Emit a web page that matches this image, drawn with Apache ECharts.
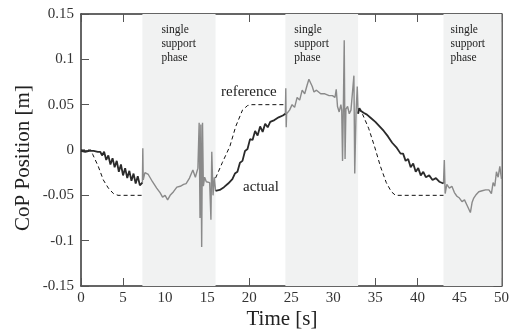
<!DOCTYPE html>
<html><head><meta charset="utf-8">
<script src="https://cdn.jsdelivr.net/npm/echarts@6/dist/echarts.min.js"></script>
<style>html,body{margin:0;padding:0;background:#fff}#c{width:512px;height:336px}</style>
</head><body><div id="c"></div>
<script>
// x tick labels / y tick labels
const xTicks = [0, 5, 10, 15, 20, 25, 30, 35, 40, 45, 50];
const yTicks = [-0.15, -0.1, -0.05, 0, 0.05, 0.1, 0.15];

// single support phase intervals [s]
const shadeStart = [7.3, 24.3, 43.1];
const shadeEnd = [16.0, 32.95, 50];

// reference CoP (dashed), three visible segments
const ref1T = [0, 1.2, 1.4, 2.05, 2.65, 3.25, 3.85, 4.4, 7.3];
const ref1V = [0, 0, -0.005, -0.018, -0.033, -0.042, -0.048, -0.05, -0.05];
const ref2T = [16.0, 16.8, 17.7, 18.4, 19.2, 19.8, 20.3, 24.3];
const ref2V = [-0.031, -0.014, 0.004, 0.026, 0.044, 0.049, 0.05, 0.05];
const ref3T = [32.95, 33.5, 34.2, 34.9, 35.6, 36.3, 36.9, 37.4, 43.1];
const ref3V = [0.046, 0.039, 0.024, 0.004, -0.018, -0.036, -0.046, -0.05, -0.05];

// actual CoP, double support phases (black)
const act1T = [0, 0.5, 1.0, 1.5, 2.0, 2.3, 2.5, 2.75, 3.0, 3.25, 3.5, 3.75, 4.0, 4.25, 4.5, 4.75, 5.0, 5.25, 5.5, 5.75, 6.0, 6.25, 6.5, 6.75, 7.0, 7.3];
const act1V = [-0.001, -0.002, -0.001, -0.001, -0.002, -0.002, -0.006, -0.002, -0.011, -0.006, -0.016, -0.009, -0.019, -0.012, -0.024, -0.016, -0.028, -0.02, -0.031, -0.023, -0.034, -0.026, -0.037, -0.029, -0.039, -0.036];
const act2T = [16.0, 16.1, 16.5, 17.0, 17.5, 18.0, 18.3, 18.6, 18.9, 19.2, 19.5, 19.8, 20.1, 20.4, 20.7, 21.0, 21.3, 21.6, 21.9, 22.2, 22.5, 23.0, 23.5, 24.0, 24.3];
const act2V = [-0.045, -0.047, -0.044, -0.041, -0.037, -0.032, -0.026, -0.024, -0.014, -0.012, -0.001, 0.001, 0.012, 0.011, 0.021, 0.016, 0.026, 0.020, 0.029, 0.025, 0.031, 0.033, 0.036, 0.038, 0.040];
const act3T = [32.95, 33.1, 33.3, 33.6, 34.0, 34.5, 35.0, 35.5, 36.0, 36.5, 37.0, 37.5, 38.0, 38.3, 38.6, 38.9, 39.2, 39.5, 39.8, 40.1, 40.4, 40.7, 41.0, 41.4, 41.8, 42.2, 42.6, 43.1];
const act3V = [0.040, 0.046, 0.043, 0.041, 0.039, 0.035, 0.031, 0.026, 0.021, 0.015, 0.008, 0.003, -0.004, -0.004, -0.012, -0.010, -0.019, -0.015, -0.024, -0.020, -0.028, -0.024, -0.030, -0.028, -0.033, -0.031, -0.035, -0.037];

// actual CoP, single support phases (gray)
const ss1T = [7.3, 7.35, 7.4, 7.6, 8.0, 8.5, 9.0, 9.4, 9.7, 10.0, 10.3, 10.6, 11.0, 11.4, 11.8, 12.2, 12.5, 12.9, 13.3, 13.6, 13.9, 14.05, 14.15, 14.25, 14.35, 14.45, 14.55, 14.7, 14.9, 15.1, 15.3, 15.45, 15.55, 15.7, 15.85, 16.0];
const ss1V = [-0.036, 0.002, -0.033, -0.025, -0.027, -0.035, -0.042, -0.047, -0.052, -0.05, -0.055, -0.05, -0.046, -0.041, -0.040, -0.038, -0.037, -0.031, -0.022, -0.03, -0.02, 0.03, -0.075, 0.028, -0.107, 0.03, -0.04, -0.03, -0.035, -0.033, -0.036, -0.077, -0.002, -0.05, -0.03, -0.045];
const ss2T = [24.3, 24.35, 24.4, 24.45, 24.8, 25.1, 25.4, 25.7, 26.0, 26.3, 26.6, 26.9, 27.1, 27.3, 27.5, 27.7, 28.0, 28.5, 29.0, 29.5, 29.9, 30.2, 30.35, 30.5, 30.7, 30.9, 31.0, 31.1, 31.2, 31.3, 31.4, 31.5, 31.7, 31.9, 32.1, 32.3, 32.45, 32.55, 32.7, 32.85, 32.95];
const ss2V = [0.040, 0.068, 0.025, 0.040, 0.044, 0.050, 0.047, 0.058, 0.055, 0.066, 0.062, 0.072, 0.078, 0.080, 0.070, 0.064, 0.066, 0.062, 0.062, 0.060, 0.060, 0.058, 0.067, 0.048, 0.042, 0.050, 0.044, -0.012, 0.050, 0.121, -0.010, 0.045, 0.048, 0.040, 0.044, 0.042, 0.082, -0.026, 0.040, 0.070, 0.040];
const ss3T = [43.1, 43.2, 43.3, 43.5, 43.8, 44.1, 44.4, 44.7, 45.0, 45.3, 45.6, 45.9, 46.1, 46.3, 46.5, 46.7, 47.0, 47.3, 47.7, 48.1, 48.5, 48.8, 49.0, 49.2, 49.4, 49.6, 49.8, 50.0];
const ss3V = [-0.037, -0.011, -0.048, -0.038, -0.042, -0.040, -0.047, -0.051, -0.053, -0.057, -0.055, -0.061, -0.060, -0.069, -0.058, -0.053, -0.049, -0.046, -0.045, -0.044, -0.044, -0.048, -0.036, -0.040, -0.024, -0.030, -0.018, -0.032];

const shadeLabel = 'single\nsupport\nphase';

function zip(ts, vs) { return ts.map((t, i) => [t, vs[i]]); }

const FONT = 'Liberation Serif';
const chart = echarts.init(document.getElementById('c'), null, {renderer: 'canvas'});

const labelOffsets = [[19, 9], [9, 9], [7, 9]];
const series = [];
series.push({
  type: 'line', data: [], silent: true,
  markArea: {
    silent: true,
    itemStyle: {color: '#f1f2f2'},
    label: {show: true, position: 'insideTopLeft', fontFamily: FONT, fontSize: 11.5, lineHeight: 14, color: '#222'},
    data: shadeStart.map((s, i) => [
      {xAxis: s, name: shadeLabel, label: {position: labelOffsets[i]}},
      {xAxis: shadeEnd[i]}
    ])
  }
});
[[ref1T, ref1V], [ref2T, ref2V], [ref3T, ref3V]].forEach(([t, v]) => series.push({
  type: 'line', data: zip(t, v), symbol: 'none', z: 3,
  lineStyle: {color: '#111', width: 1, type: [4, 3]}
}));
[[ss1T, ss1V], [ss2T, ss2V], [ss3T, ss3V]].forEach(([t, v]) => series.push({
  type: 'line', data: zip(t, v), symbol: 'none', z: 4,
  lineStyle: {color: '#8a8a8a', width: 1.4}
}));
[[act1T, act1V], [act2T, act2V], [act3T, act3V]].forEach(([t, v]) => series.push({
  type: 'line', data: zip(t, v), symbol: 'none', z: 5,
  lineStyle: {color: '#2a2a2a', width: 1.8}
}));

function axisCommon() {
  return {
    axisLine: {show: true, onZero: false, lineStyle: {color: '#333', width: 1.5}},
    axisTick: {show: true, inside: true, length: 8, lineStyle: {color: '#555', width: 1}},
    splitLine: {show: false}
  };
}

chart.setOption({
  animation: false,
  backgroundColor: '#fff',
  grid: {left: 81, right: 9, top: 14, bottom: 50, containLabel: false},
  xAxis: [
    Object.assign({type: 'value', position: 'bottom', min: xTicks[0], max: xTicks[xTicks.length - 1], interval: 5,
      axisLabel: {fontFamily: FONT, fontSize: 15, color: '#333', margin: 5}}, axisCommon()),
    Object.assign({type: 'value', position: 'top', min: xTicks[0], max: xTicks[xTicks.length - 1], interval: 5,
      axisLabel: {show: false}}, axisCommon())
  ],
  yAxis: [
    Object.assign({type: 'value', position: 'left', min: yTicks[0], max: yTicks[yTicks.length - 1], interval: 0.05,
      axisLabel: {fontFamily: FONT, fontSize: 15, color: '#333', margin: 7,
        formatter: v => String(Math.round(v * 100) / 100)}}, axisCommon()),
    Object.assign({type: 'value', position: 'right', min: yTicks[0], max: yTicks[yTicks.length - 1], interval: 0.05,
      axisLabel: {show: false}}, axisCommon())
  ],
  graphic: [
    {type: 'text', x: 23, y: 158, rotation: Math.PI / 2,
      style: {text: 'CoP Position [m]', font: '21px "Liberation Serif"', fill: '#222', align: 'center', verticalAlign: 'middle'}},
    {type: 'text', x: 282, y: 319,
      style: {text: 'Time [s]', font: '21px "Liberation Serif"', fill: '#222', align: 'center', verticalAlign: 'middle'}},
    {type: 'text', x: 221, y: 92, z: 10,
      style: {text: 'reference', font: '15px "Liberation Serif"', fill: '#222', align: 'left', verticalAlign: 'middle'}},
    {type: 'text', x: 243, y: 187, z: 10,
      style: {text: 'actual', font: '15px "Liberation Serif"', fill: '#222', align: 'left', verticalAlign: 'middle'}}
  ],
  series: series
});
</script></body></html>
